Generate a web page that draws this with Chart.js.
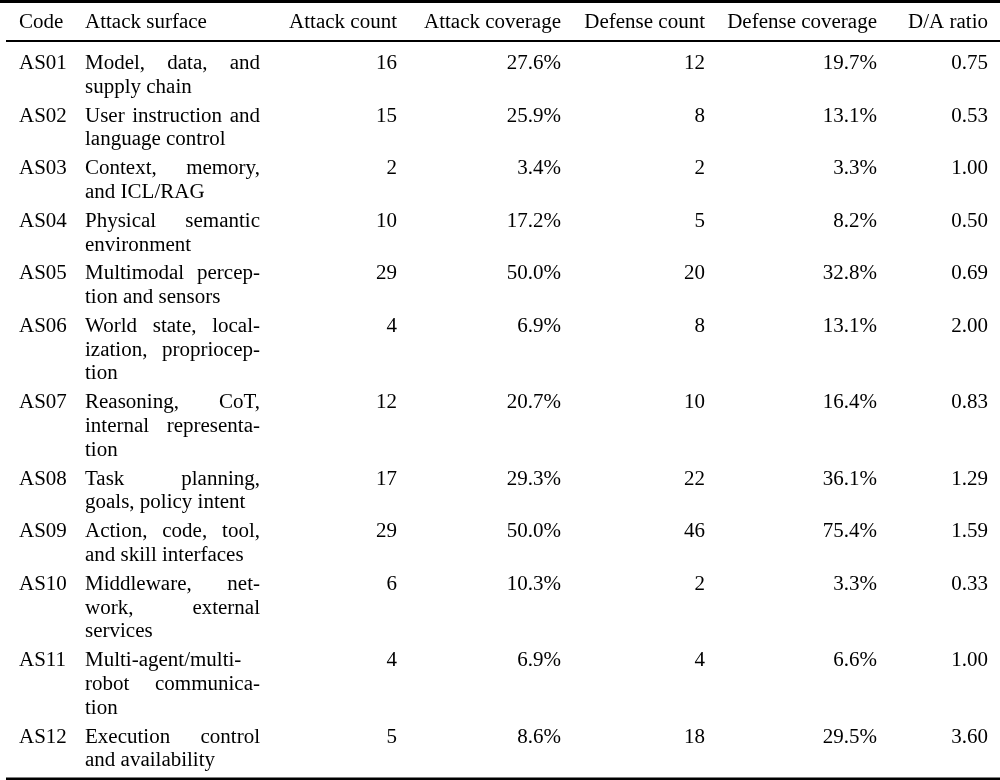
<!DOCTYPE html>
<html>
<head>
<meta charset="utf-8">
<script src="https://cdn.jsdelivr.net/npm/chart.js@4.4.1/dist/chart.umd.min.js"></script>
<style>
  html, body { margin: 0; padding: 0; background: #fff; }
  #wrap { width: 1000px; height: 780px; }
  .probe { position: absolute; left: -9999px; top: 0; font: 20px "Liberation Serif"; }
</style>
</head>
<body>
<span class="probe">Attack surface 0123</span>
<div id="wrap"><canvas id="tableChart" width="1000" height="780"></canvas></div>
<script>
// table contents
const headers = ['Code', 'Attack surface', 'Attack count', 'Attack coverage', 'Defense count', 'Defense coverage', 'D/A ratio'];
const codes = ['AS01', 'AS02', 'AS03', 'AS04', 'AS05', 'AS06', 'AS07', 'AS08', 'AS09', 'AS10', 'AS11', 'AS12'];
const surfaceLines = [
    ['Model, data, and', 'supply chain'],
    ['User instruction and', 'language control'],
    ['Context, memory,', 'and ICL/RAG'],
    ['Physical semantic', 'environment'],
    ['Multimodal percep-', 'tion and sensors'],
    ['World state, local-', 'ization, propriocep-', 'tion'],
    ['Reasoning, CoT,', 'internal representa-', 'tion'],
    ['Task planning,', 'goals, policy intent'],
    ['Action, code, tool,', 'and skill interfaces'],
    ['Middleware, net-', 'work, external', 'services'],
    ['Multi-agent/multi-', 'robot communica-', 'tion'],
    ['Execution control', 'and availability']
];
const attackCount = [16, 15, 2, 10, 29, 4, 12, 17, 29, 6, 4, 5];
const attackCoverage = [27.6, 25.9, 3.4, 17.2, 50.0, 6.9, 20.7, 29.3, 50.0, 10.3, 6.9, 8.6];
const defenseCount = [12, 8, 2, 5, 20, 8, 10, 22, 46, 2, 4, 18];
const defenseCoverage = [19.7, 13.1, 3.3, 8.2, 32.8, 13.1, 16.4, 36.1, 75.4, 3.3, 6.6, 29.5];
const daRatio = [0.75, 0.53, 1.00, 0.50, 0.69, 2.00, 0.83, 1.29, 1.59, 0.33, 1.00, 3.60];

// layout (x in px, y in text-line units)
const colX = [19, 85, 397, 561, 705, 877, 988];
const colAlign = ['left', 'left', 'right', 'right', 'right', 'right', 'right'];
const surfaceWidth = 175;
const rowGap = 0.22;
const headerY = -1.73;
const rules = [{ y: -2.85, w: 3, x0: 0 }, { y: -1.18, w: 2, x0: 6 }, { y: 29.95, w: 2.5, x0: 6 }];
const FONT = '20px "Liberation Serif", "Times New Roman", "DejaVu Serif", serif';
const SX = 1.05;
const INK = '#000';

// first-line position of each row
const rowY = [];
let cur = 0;
surfaceLines.forEach(lines => { rowY.push(cur); cur += lines.length + rowGap; });

const columns = [
    codes,
    surfaceLines,
    attackCount.map(v => String(v)),
    attackCoverage.map(v => v.toFixed(1) + '%'),
    defenseCount.map(v => String(v)),
    defenseCoverage.map(v => v.toFixed(1) + '%'),
    daRatio.map(v => v.toFixed(2))
];

function putText(ctx, text, x, y, align) {
    ctx.save();
    ctx.translate(x, y);
    ctx.scale(SX, 1);
    ctx.textAlign = align;
    ctx.fillText(text, 0, 0);
    ctx.restore();
}

function justifyLine(ctx, line, x, y, width) {
    const words = line.split(' ');
    if (words.length < 2) { putText(ctx, line, x, y, 'left'); return; }
    const total = words.reduce((s, w) => s + ctx.measureText(w).width * SX, 0);
    const gap = (width - total) / (words.length - 1);
    let px = x;
    words.forEach(w => {
        putText(ctx, w, px, y, 'left');
        px += ctx.measureText(w).width * SX + gap;
    });
}

const tablePlugin = {
    id: 'tableText',
    afterDatasetsDraw(chart) {
        const ctx = chart.ctx;
        const xs = chart.scales.x, ys = chart.scales.y;
        ctx.save();
        ctx.font = FONT;
        ctx.fillStyle = INK;
        ctx.textBaseline = 'alphabetic';

        // booktabs rules
        ctx.strokeStyle = '#000';
        rules.forEach(r => {
            const py = ys.getPixelForValue(r.y);
            ctx.lineWidth = r.w;
            ctx.beginPath();
            ctx.moveTo(xs.getPixelForValue(r.x0), py);
            ctx.lineTo(xs.getPixelForValue(1000), py);
            ctx.stroke();
        });

        // header
        const hy = ys.getPixelForValue(headerY);
        headers.forEach((h, c) => putText(ctx, h, xs.getPixelForValue(colX[c]), hy, colAlign[c]));

        // body cells
        chart.data.datasets.forEach((ds, c) => {
            const meta = chart.getDatasetMeta(c);
            meta.data.forEach((pt, i) => {
                const cell = ds.cells[i];
                if (Array.isArray(cell)) {
                    cell.forEach((line, k) => {
                        const py = ys.getPixelForValue(rowY[i] + k);
                        if (k < cell.length - 1) justifyLine(ctx, line, pt.x, py, surfaceWidth);
                        else putText(ctx, line, pt.x, py, 'left');
                    });
                } else {
                    putText(ctx, cell, pt.x, pt.y, colAlign[c]);
                }
            });
        });
        ctx.restore();
    }
};

function build() {
    new Chart(document.getElementById('tableChart').getContext('2d'), {
        type: 'scatter',
        data: {
            datasets: columns.map((col, c) => ({
                label: headers[c],
                cells: col,
                data: col.map((_, i) => ({ x: colX[c], y: rowY[i] })),
                pointRadius: 0,
                pointHoverRadius: 0
            }))
        },
        options: {
            responsive: false,
            animation: false,
            devicePixelRatio: 1,
            layout: { padding: 0 },
            plugins: {
                legend: { display: false },
                tooltip: { enabled: false }
            },
            scales: {
                x: { type: 'linear', display: false, min: 0, max: 1000 },
                y: { type: 'linear', display: false, reverse: true, min: -2.911, max: 30.0 }
            }
        },
        plugins: [tablePlugin]
    });
}

document.fonts.load('20px "Liberation Serif"').catch(() => {}).then(build);
</script>
</body>
</html>
